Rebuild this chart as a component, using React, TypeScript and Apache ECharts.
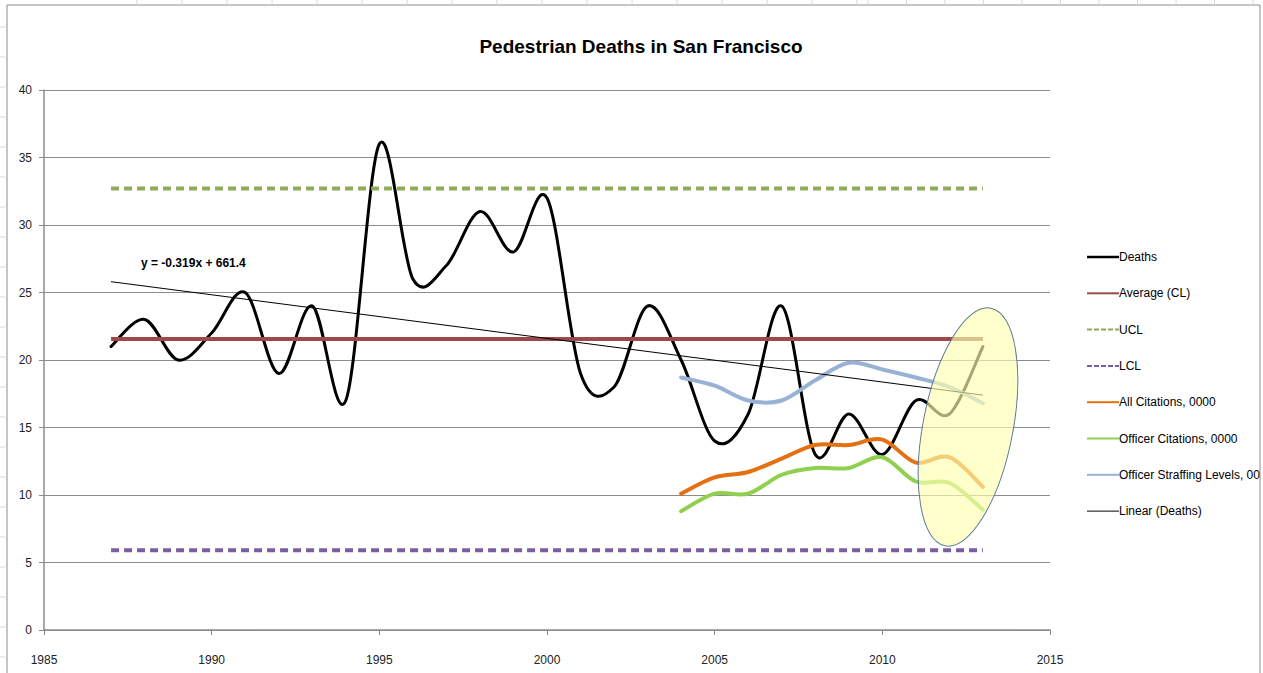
import React, { useEffect, useRef } from "react";
import * as echarts from "echarts";

const years = [1987, 1988, 1989, 1990, 1991, 1992, 1993, 1994, 1995, 1996, 1997, 1998, 1999, 2000, 2001, 2002, 2003, 2004, 2005, 2006, 2007, 2008, 2009, 2010, 2011, 2012, 2013];
const deaths = [21, 23, 20, 22, 25, 19, 24, 17, 36, 26, 27, 31, 28, 32, 19, 18, 24, 20, 14, 16, 24, 13, 16, 13, 17, 16, 21];
const averageCL = 21.56;
const ucl = 32.7;
const lcl = 5.9;
const citeYears = [2004, 2005, 2006, 2007, 2008, 2009, 2010, 2011, 2012, 2013];
const allCitations = [10.1, 11.3, 11.7, 12.7, 13.7, 13.7, 14.1, 12.4, 12.8, 10.6];
const officerCitations = [8.8, 10.1, 10.1, 11.5, 12.0, 12.0, 12.8, 11.0, 10.9, 8.9];
const staffing = [18.7, 18.1, 17.0, 17.0, 18.5, 19.8, 19.3, 18.7, 18.0, 16.8];
const trendYears = [1987, 2013];
const trendValues = [25.8, 17.4];
const trendLabel = "y = -0.319x + 661.4";
const xTicks = { min: 1985, max: 2015, interval: 5 };
const yTicks = { min: 0, max: 40, interval: 5 };

const FONT = "'Liberation Sans', Arial, sans-serif";

// Excel-like smoothed line (Catmull-Rom through the data points, in pixel space)
function smoothSeries(name: string, xs: number[], ys: number[], color: string, width: number) {
  return {
    name,
    type: "custom",
    data: xs.map((x, i) => [x, ys[i]]),
    encode: { x: 0, y: 1 },
    itemStyle: { color },
    renderItem: (params: any, api: any) => {
      if (params.dataIndex !== 0) return null;
      const p = xs.map((x, i) => api.coord([x, ys[i]]));
      let d = `M${p[0][0]},${p[0][1]}`;
      for (let i = 0; i < p.length - 1; i++) {
        const p0 = p[i - 1] || p[i];
        const p1 = p[i];
        const p2 = p[i + 1];
        const p3 = p[i + 2] || p[i + 1];
        const c1x = p1[0] + (p2[0] - p0[0]) / 6;
        const c1y = p1[1] + (p2[1] - p0[1]) / 6;
        const c2x = p2[0] - (p3[0] - p1[0]) / 6;
        const c2y = p2[1] - (p3[1] - p1[1]) / 6;
        d += ` C${c1x},${c1y} ${c2x},${c2y} ${p2[0]},${p2[1]}`;
      }
      return {
        type: "path",
        shape: { pathData: d },
        style: { fill: "none", stroke: color, lineWidth: width, lineJoin: "round", lineCap: "round" },
        silent: true,
      };
    },
  };
}

export default function App() {
  const ref = useRef<HTMLDivElement>(null);
  useEffect(() => {
    if (!ref.current) return;
    const chart = echarts.init(ref.current, null, { renderer: "svg" });
    const flat = (v: number) => [[years[0], v], [years[years.length - 1], v]];
    const pair = (xs: number[], ys: number[]) => xs.map((x, i) => [x, ys[i]]);

    const sheetLines: any[] = [];
    for (let y = 27; y < 673; y += 30) {
      sheetLines.push({ type: "line", shape: { x1: 0, y1: y, x2: 7, y2: y }, style: { stroke: "#d9d9d9", lineWidth: 1 }, silent: true });
    }
    for (let x = 137; x < 860; x += 45) {
      sheetLines.push({ type: "line", shape: { x1: x, y1: 0, x2: x, y2: 5 }, style: { stroke: "#d9d9d9", lineWidth: 1 }, silent: true });
    }
    for (let x = 868; x < 1263; x += 38.5) {
      sheetLines.push({ type: "line", shape: { x1: x, y1: 0, x2: x, y2: 5 }, style: { stroke: "#d9d9d9", lineWidth: 1 }, silent: true });
    }

    const dashIcon = "path://M0,6 L5,6 L5,8 L0,8 Z M7,6 L12,6 L12,8 L7,8 Z M14,6 L19,6 L19,8 L14,8 Z M21,6 L26,6 L26,8 L21,8 Z M28,6 L32,6 L32,8 L28,8 Z";

    chart.setOption({
      animation: false,
      backgroundColor: "#ffffff",
      title: {
        text: "Pedestrian Deaths in San Francisco",
        left: 636,
        textAlign: "center",
        top: 32,
        textStyle: { fontFamily: FONT, fontSize: 19, fontWeight: "bold", color: "#000" },
      },
      grid: { left: 44, right: 213, top: 90, bottom: 43 },
      xAxis: {
        type: "value",
        min: xTicks.min,
        max: xTicks.max,
        interval: xTicks.interval,
        axisLine: { lineStyle: { color: "#8c8c8c", width: 1.5 } },
        axisTick: { show: true, inside: false, length: 5, lineStyle: { color: "#8c8c8c" } },
        axisLabel: { color: "#222", fontFamily: FONT, fontSize: 12, margin: 24, formatter: (v: number) => String(v) },
        splitLine: { show: false },
      },
      yAxis: {
        type: "value",
        min: yTicks.min,
        max: yTicks.max,
        interval: yTicks.interval,
        axisLine: { show: true, lineStyle: { color: "#8c8c8c", width: 1.5 } },
        axisTick: { show: true, inside: false, length: 5, lineStyle: { color: "#8c8c8c" } },
        axisLabel: { color: "#222", fontFamily: FONT, fontSize: 12, margin: 12 },
        splitLine: { show: true, lineStyle: { color: "#8c8c8c", width: 1.2 } },
      },
      legend: {
        orient: "vertical",
        left: 1082,
        top: 245,
        itemGap: 22.3,
        itemWidth: 32,
        itemHeight: 14,
        icon: "path://M0,6 L32,6 L32,8 L0,8 Z",
        textStyle: { fontFamily: FONT, fontSize: 12, color: "#000", padding: [0, 0, 0, -5], lineHeight: 14, height: 14 },
        data: [
          { name: "Deaths", icon: "path://M0,6 L32,6 L32,8.5 L0,8.5 Z" },
          { name: "Average (CL)" },
          { name: "UCL", icon: dashIcon },
          { name: "LCL", icon: dashIcon },
          { name: "All Citations, 0000" },
          { name: "Officer Citations, 0000" },
          { name: "Officer Straffing Levels, 00" },
          { name: "Linear (Deaths)", icon: "path://M0,6.5 L32,6.5 L32,7.5 L0,7.5 Z" },
        ],
      },
      series: [
        smoothSeries("Deaths", years, deaths, "#000000", 3),
        {
          name: "Average (CL)", type: "line", data: flat(averageCL), symbol: "none",
          lineStyle: { color: "#9c4a47", width: 4 }, itemStyle: { color: "#9c4a47" },
        },
        {
          name: "UCL", type: "line", data: flat(ucl), symbol: "none",
          lineStyle: { color: "#8fab57", width: 4, type: [8, 5] }, itemStyle: { color: "#8fab57" },
        },
        {
          name: "LCL", type: "line", data: flat(lcl), symbol: "none",
          lineStyle: { color: "#7a5fa0", width: 4, type: [8, 5] }, itemStyle: { color: "#7a5fa0" },
        },
        smoothSeries("All Citations, 0000", citeYears, allCitations, "#e4700f", 4),
        smoothSeries("Officer Citations, 0000", citeYears, officerCitations, "#8fd04e", 4),
        smoothSeries("Officer Straffing Levels, 00", citeYears, staffing, "#98b2d6", 4),
        {
          name: "Linear (Deaths)", type: "line", data: pair(trendYears, trendValues), symbol: "none",
          lineStyle: { color: "#000000", width: 1 }, itemStyle: { color: "#000000" },
        },
      ],
      graphic: [
        ...sheetLines,
        {
          type: "rect", shape: { x: 7, y: 5, width: 1253, height: 700 },
          style: { fill: "none", stroke: "#8c8c8c", lineWidth: 1 }, silent: true, z: -1,
        },
        {
          type: "text", x: 141, y: 257,
          style: { text: trendLabel, fontFamily: FONT, fontSize: 12, fontWeight: "bold", fill: "#000" },
        },
        {
          type: "ellipse", x: 968, y: 427, rotation: -0.19,
          shape: { cx: 0, cy: 0, rx: 45, ry: 121 },
          style: { fill: "rgba(255,255,175,0.65)", stroke: "#5b7a99", lineWidth: 1 },
          z: 100,
        },
      ],
    });
    return () => chart.dispose();
  }, []);
  return <div ref={ref} style={{ width: 1263, height: 673, position: "absolute", left: 0, top: 0 }} />;
}
